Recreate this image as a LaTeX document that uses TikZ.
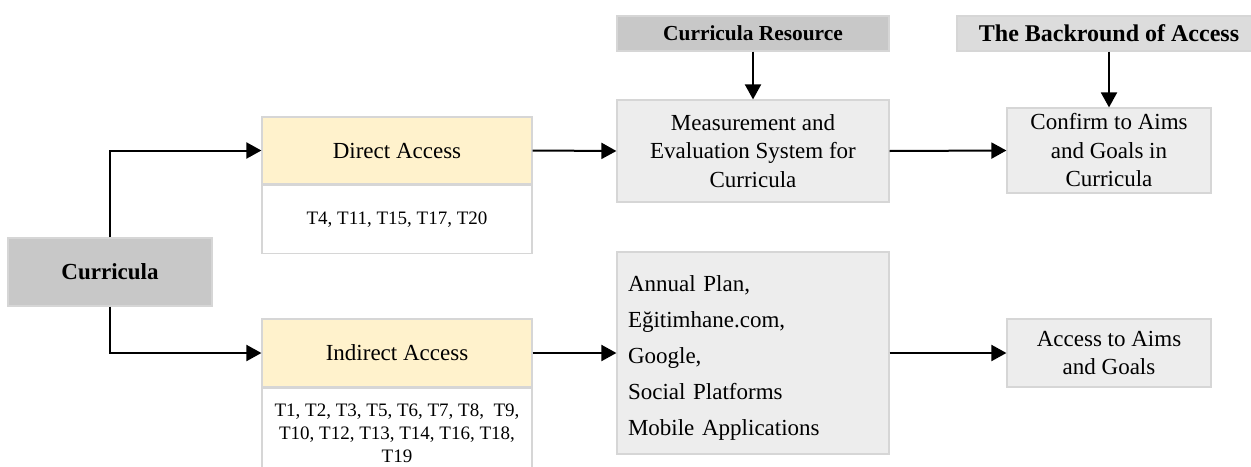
\documentclass[tikz,border=0pt]{standalone}
\usepackage{fontspec}
\setmainfont{Liberation Serif}
\usetikzlibrary{arrows.meta}
\definecolor{boxline}{HTML}{D6D6D6}
\definecolor{darkfill}{HTML}{C8C8C8}
\definecolor{midfill}{HTML}{DCDCDC}
\definecolor{lightfill}{HTML}{EDEDED}
\definecolor{headfill}{HTML}{FFF2CC}
\begin{document}
\begin{tikzpicture}[x=0.5pt,y=-0.5pt,
  box/.style={draw=boxline,line width=0.6pt,align=center,inner sep=0pt,
              font=\fontsize{11.5}{14.25}\selectfont},
  title/.style={box,font=\bfseries\fontsize{11}{13}\selectfont},
  small/.style={font=\fontsize{9.5}{11.5}\selectfont},
  arr/.style={-{Triangle[length=7.5pt,width=8pt]},line width=1pt}]
\useasboundingbox (0,0) rectangle (1251,466);

% left: curricula and the two ways of access
\node[title,fill=darkfill,minimum width=102pt,minimum height=34pt,
      font=\bfseries\fontsize{11.5}{14}\selectfont] (curr) at (110,272) {Curricula};
\node[box,fill=headfill,minimum width=135pt,minimum height=33.5pt] (dirhead) at (397,150.5) {Direct Access};
\node[box,small,fill=white,minimum width=135pt,minimum height=34pt,anchor=north] (dirbody) at (dirhead.south)
      {T4, T11, T15, T17, T20};
\node[box,fill=headfill,minimum width=135pt,minimum height=34pt] (indhead) at (397,353) {Indirect Access};
\node[box,small,fill=white,minimum width=135pt,minimum height=45pt,anchor=north] (indbody) at (indhead.south)
      {T1, T2, T3, T5, T6, T7, T8, \ T9,\\T10, T12, T13, T14, T16, T18,\\T19};

% middle column
\node[title,fill=darkfill,minimum width=136pt,minimum height=17.5pt,
      font=\bfseries\fontsize{10.7}{13}\selectfont] (res) at (753,33.5) {Curricula Resource};
\node[box,fill=lightfill,minimum width=136pt,minimum height=51pt] (meas) at (753,151)
      {Measurement and\\Evaluation System for\\Curricula};
\node[box,fill=lightfill,minimum height=101pt,text width=125pt,inner xsep=5.5pt,align=left,
      font=\fontsize{11.5}{18}\selectfont] (apps) at (753,353)
      {\rule{0pt}{13pt}Annual Plan,\\Eğitimhane.com,\\Google,\\Social Platforms\\Mobile Applications};

% right column
\node[title,fill=midfill,minimum width=152pt,minimum height=17.5pt,
      font=\bfseries\fontsize{12}{14}\selectfont] (back) at (1109,33.5) {The Backround of Access};
\node[box,fill=lightfill,minimum width=102pt,minimum height=42.5pt] (conf) at (1109,150.5)
      {Confirm to Aims\\and Goals in\\Curricula};
\node[box,fill=lightfill,minimum width=102pt,minimum height=34pt] (aims) at (1109,353)
      {Access to Aims\\and Goals};

% arrows
\draw[arr] (curr.north) |- (dirhead.west);
\draw[arr] (curr.south) |- (indhead.west);
\draw[arr] (dirhead.east) -- (meas.west);
\draw[arr] (indhead.east) -- (apps.west);
\draw[arr] (meas.east) -- (conf.west);
\draw[arr] (apps.east) -- (aims.west);
\draw[arr] (res.south) -- (meas.north);
\draw[arr] (back.south) -- (conf.north);
\end{tikzpicture}
\end{document}
